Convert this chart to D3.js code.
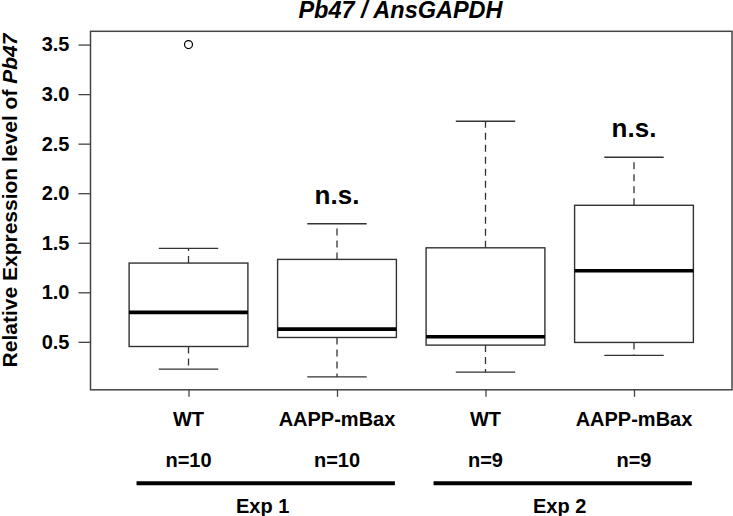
<!DOCTYPE html>
<html>
<head>
<meta charset="utf-8">
<script src="https://cdn.jsdelivr.net/npm/d3@7"></script>
<style>
  html, body { margin: 0; padding: 0; background: #fff; }
  svg { display: block; font-family: "Liberation Sans", Arial, Helvetica, sans-serif; }
</style>
</head>
<body>
<svg id="chart" width="733" height="516"></svg>
<script>
// ---- data ----
const groups = ["WT", "AAPP-mBax", "WT", "AAPP-mBax"];
const sampleSizes = ["n=10", "n=10", "n=9", "n=9"];
const lowerWhisker = [0.224, 0.146, 0.194, 0.363];
const q1 = [0.453, 0.544, 0.467, 0.494];
const medians = [0.797, 0.628, 0.551, 1.217];
const q3 = [1.295, 1.332, 1.449, 1.878];
const upperWhisker = [1.443, 1.692, 2.726, 2.363];
const outliers = [[3.50], [], [], []];
const significance = ["", "n.s.", "", "n.s."];
const experiments = ["Exp 1", "Exp 2"];
const experimentGroups = [[1, 2], [3, 4]];
const yTicks = [0.5, 1.0, 1.5, 2.0, 2.5, 3.0, 3.5];
const titleMain = "Pb47 / AnsGAPDH";

// ---- layout ----
const svg = d3.select("#chart");
const pLeft = 90.5, pRight = 732, pTop = 31.3, pBottom = 389.8;
const x = d3.scaleLinear().domain([0.34, 4.66]).range([pLeft, pRight]);
const y = d3.scaleLinear().domain([0.016, 3.634]).range([pBottom, pTop]);
const boxHalf = 0.4, capHalf = 0.2;
const stroke = "#333";

const boxes = groups.map((g, i) => ({
  pos: i + 1, g, n: sampleSizes[i], lo: lowerWhisker[i], q1: q1[i], med: medians[i],
  q3: q3[i], hi: upperWhisker[i], out: outliers[i], sig: significance[i]
}));

// plot frame
svg.append("rect")
  .attr("x", pLeft).attr("y", pTop)
  .attr("width", pRight - pLeft).attr("height", pBottom - pTop)
  .attr("fill", "none").attr("stroke", "#444").attr("stroke-width", 1.5);

// y axis
const yAxis = d3.axisLeft(y).tickValues(yTicks).tickFormat(d3.format(".1f")).tickSize(12).tickPadding(9);
const gy = svg.append("g").attr("transform", `translate(${pLeft},0)`).call(yAxis);
gy.select(".domain").remove();
gy.selectAll(".tick line").attr("stroke", "#444").attr("stroke-width", 1.3);
gy.selectAll(".tick text").attr("fill", "#000").style("font-size", "20px").style("font-weight", "bold")
  .style("font-family", "'Liberation Sans', Arial, sans-serif");

// x axis (ticks only)
const xAxis = d3.axisBottom(x).tickValues(boxes.map(b => b.pos)).tickFormat("").tickSize(7);
const gx = svg.append("g").attr("transform", `translate(0,${pBottom})`).call(xAxis);
gx.select(".domain").remove();
gx.selectAll(".tick line").attr("stroke", "#444").attr("stroke-width", 1.3);

// boxes
const bg = svg.append("g").selectAll("g").data(boxes).join("g");
// whiskers (dashed)
bg.append("line")
  .attr("x1", d => x(d.pos)).attr("x2", d => x(d.pos))
  .attr("y1", d => y(d.q3)).attr("y2", d => y(d.hi))
  .attr("stroke", stroke).attr("stroke-width", 1.3).attr("stroke-dasharray", "7,5");
bg.append("line")
  .attr("x1", d => x(d.pos)).attr("x2", d => x(d.pos))
  .attr("y1", d => y(d.q1)).attr("y2", d => y(d.lo))
  .attr("stroke", stroke).attr("stroke-width", 1.3).attr("stroke-dasharray", "7,5");
// caps
bg.append("line")
  .attr("x1", d => x(d.pos - capHalf)).attr("x2", d => x(d.pos + capHalf))
  .attr("y1", d => y(d.hi)).attr("y2", d => y(d.hi))
  .attr("stroke", stroke).attr("stroke-width", 1.3);
bg.append("line")
  .attr("x1", d => x(d.pos - capHalf)).attr("x2", d => x(d.pos + capHalf))
  .attr("y1", d => y(d.lo)).attr("y2", d => y(d.lo))
  .attr("stroke", stroke).attr("stroke-width", 1.3);
// box
bg.append("rect")
  .attr("x", d => x(d.pos - boxHalf)).attr("width", d => x(d.pos + boxHalf) - x(d.pos - boxHalf))
  .attr("y", d => y(d.q3)).attr("height", d => y(d.q1) - y(d.q3))
  .attr("fill", "#fff").attr("stroke", stroke).attr("stroke-width", 1.4);
// median
bg.append("line")
  .attr("x1", d => x(d.pos - boxHalf)).attr("x2", d => x(d.pos + boxHalf))
  .attr("y1", d => y(d.med)).attr("y2", d => y(d.med))
  .attr("stroke", "#000").attr("stroke-width", 3.6);
// outliers
bg.selectAll("circle").data(d => d.out.map(v => ({ pos: d.pos, v }))).join("circle")
  .attr("cx", d => x(d.pos)).attr("cy", d => y(d.v)).attr("r", 4)
  .attr("fill", "none").attr("stroke", "#000").attr("stroke-width", 1.2);
// significance
bg.filter(d => d.sig).append("text")
  .attr("x", d => x(d.pos)).attr("y", d => y(d.hi) - 20)
  .attr("text-anchor", "middle").style("font-size", "26px").style("font-weight", "bold")
  .text(d => d.sig);

// group labels & n
svg.append("g").selectAll("text").data(boxes).join("text")
  .attr("x", d => x(d.pos)).attr("y", 425.7)
  .attr("text-anchor", "middle").style("font-size", "20px").style("font-weight", "bold")
  .text(d => d.g);
svg.append("g").selectAll("text").data(boxes).join("text")
  .attr("x", d => x(d.pos)).attr("y", 467.3)
  .attr("text-anchor", "middle").style("font-size", "20px").style("font-weight", "bold")
  .text(d => d.n);

// experiment lines
const eg = svg.append("g").selectAll("g").data(experiments.map((e, i) => ({ e, g: experimentGroups[i] }))).join("g");
eg.append("line")
  .attr("x1", d => x(d.g[0] - 0.35)).attr("x2", d => x(d.g[1] + 0.39))
  .attr("y1", 483.3).attr("y2", 483.3)
  .attr("stroke", "#000").attr("stroke-width", 4);
eg.append("text")
  .attr("x", d => (x(d.g[0] - 0.35) + x(d.g[1] + 0.39)) / 2 - 3).attr("y", 512.5)
  .attr("text-anchor", "middle").style("font-size", "20px").style("font-weight", "bold")
  .text(d => d.e);

// title
svg.append("text")
  .attr("x", 400.5).attr("y", 18)
  .attr("text-anchor", "middle").style("font-size", "23.5px").style("font-weight", "bold").style("font-style", "italic")
  .text(titleMain);

// y label
const yl = svg.append("text")
  .attr("transform", `translate(17,${(33 + 368) / 2}) rotate(-90)`)
  .attr("text-anchor", "middle").style("font-size", "21px").style("font-weight", "bold");
yl.append("tspan").text("Relative Expression level of ");
yl.append("tspan").style("font-style", "italic").text("Pb47");
</script>
</body>
</html>
